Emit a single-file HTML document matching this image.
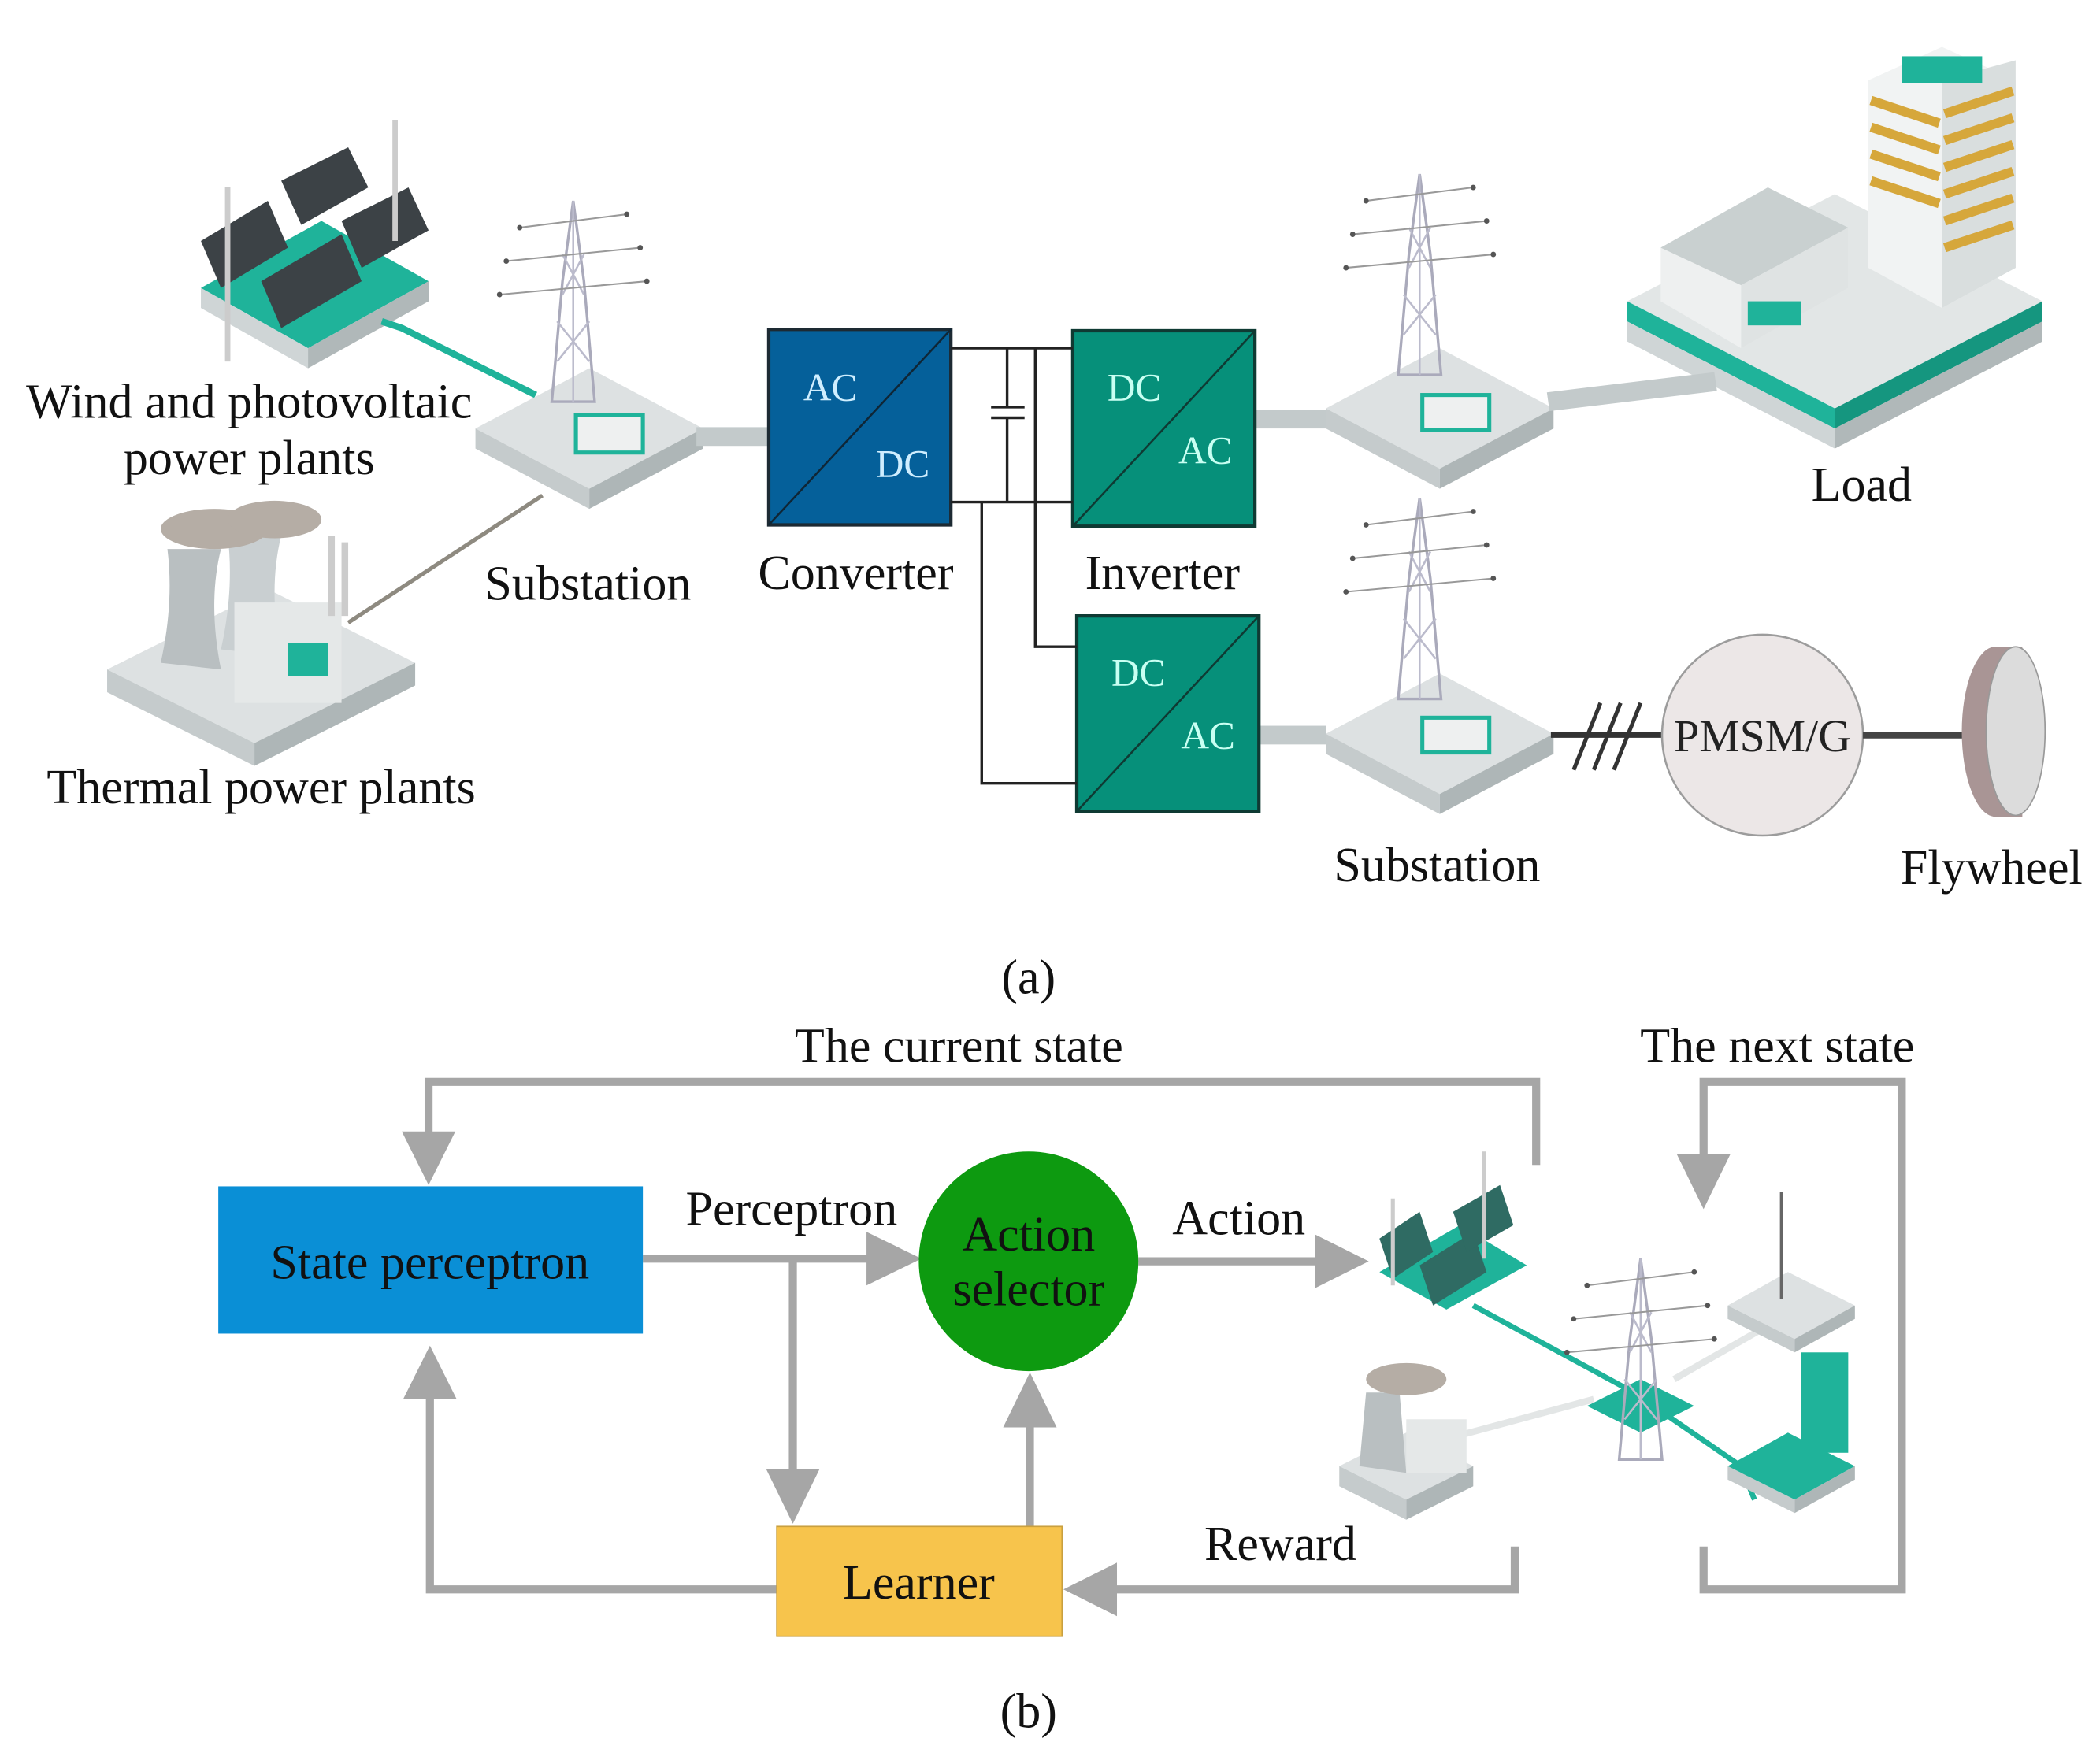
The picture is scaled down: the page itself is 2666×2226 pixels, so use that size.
<!DOCTYPE html>
<html><head><meta charset="utf-8"><style>
html,body{margin:0;padding:0;background:#fff;}
svg{display:block;}
text{font-family:"Liberation Serif",serif;}
</style></head><body>
<svg width="2666" height="2226" viewBox="0 0 1568 1309.2" xmlns="http://www.w3.org/2000/svg">
<defs>
<g id="tower">
 <polygon points="30,0 22,60 14,150 46,150 38,60" fill="none" stroke="#aab" stroke-width="2"/>
 <line x1="30" y1="0" x2="30" y2="150" stroke="#bbc" stroke-width="1.5"/>
 <path d="M22,40 L38,70 M38,40 L22,70 M18,90 L42,120 M42,90 L18,120" stroke="#bbc" stroke-width="1.5"/>
 <path d="M-10,20 L70,10 M-20,45 L80,35 M-25,70 L85,60" stroke="#999" stroke-width="1.2"/>
 <circle cx="-10" cy="20" r="2" fill="#555"/><circle cx="70" cy="10" r="2" fill="#555"/>
 <circle cx="-20" cy="45" r="2" fill="#555"/><circle cx="80" cy="35" r="2" fill="#555"/>
 <circle cx="-25" cy="70" r="2" fill="#555"/><circle cx="85" cy="60" r="2" fill="#555"/>
</g>
<g id="plat">
 <polygon points="0,0 85,-45 170,0 85,45" fill="#dde1e2"/>
 <polygon points="0,0 85,45 85,60 0,15" fill="#c5cbcc"/>
 <polygon points="170,0 85,45 85,60 170,15" fill="#aeb6b7"/>
</g>
</defs>

<g>
 <polygon points="150,215 240,165 320,210 230,260" fill="#1fb39a"/>
 <polygon points="150,215 230,260 230,275 150,230" fill="#cfd5d6"/>
 <polygon points="320,210 230,260 230,275 320,225" fill="#b0b8b9"/>
 <polygon points="150,180 200,150 215,185 165,215" fill="#3c4246"/>
 <polygon points="195,210 255,175 270,210 210,245" fill="#3c4246"/>
 <polygon points="210,135 260,110 275,140 225,168" fill="#3c4246"/>
 <polygon points="255,165 305,140 320,172 270,200" fill="#3c4246"/>
 <line x1="170" y1="140" x2="170" y2="270" stroke="#ccc" stroke-width="4"/>
 <line x1="295" y1="90" x2="295" y2="180" stroke="#ccc" stroke-width="4"/>
 <path d="M285,240 L300,245 L400,295" stroke="#1fb39a" stroke-width="5" fill="none"/>
</g>
<g>
 <polygon points="80,500 200,440 310,495 190,555" fill="#dde1e2"/>
 <polygon points="80,500 190,555 190,572 80,517" fill="#c5cbcc"/>
 <polygon points="310,495 190,555 190,572 310,512" fill="#aeb6b7"/>
 <path d="M125,410 Q130,450 120,495 L165,500 Q155,450 165,410 Z" fill="#b9bfc1"/>
 <path d="M170,400 Q175,440 165,485 L210,490 Q200,440 210,400 Z" fill="#c9cfd1"/>
 <ellipse cx="160" cy="395" rx="40" ry="15" fill="#b5ada5"/>
 <ellipse cx="205" cy="388" rx="35" ry="14" fill="#b5ada5"/>
 <rect x="175" y="450" width="80" height="75" fill="#e5e8e8"/>
 <rect x="215" y="480" width="30" height="25" fill="#1fb39a"/>
 <rect x="245" y="400" width="5" height="60" fill="#ccc"/><rect x="255" y="405" width="5" height="55" fill="#ccc"/>
 <line x1="260" y1="465" x2="405" y2="370" stroke="#8e8a80" stroke-width="3"/>
</g>
<use href="#plat" x="355" y="320"/>
<use href="#tower" x="398" y="150"/>
<rect x="430" y="310" width="50" height="28" fill="#eef0f0" stroke="#1fb39a" stroke-width="3"/>
<use href="#plat" x="990" y="305"/>
<use href="#tower" x="1030" y="130"/>
<rect x="1062" y="295" width="50" height="26" fill="#eef0f0" stroke="#1fb39a" stroke-width="3"/>
<use href="#plat" x="990" y="548"/>
<use href="#tower" x="1030" y="372"/>
<rect x="1062" y="536" width="50" height="26" fill="#eef0f0" stroke="#1fb39a" stroke-width="3"/>
<g>
 <polygon points="1215,225 1370,145 1525,225 1370,305" fill="#e2e6e6"/>
 <polygon points="1215,225 1370,305 1370,320 1215,240" fill="#1fb39a"/>
 <polygon points="1525,225 1370,305 1370,320 1525,240" fill="#15967f"/>
 <polygon points="1215,240 1370,320 1370,335 1215,255" fill="#cfd5d6"/>
 <polygon points="1525,240 1370,320 1370,335 1525,255" fill="#b0b8b9"/>
 <polygon points="1395,60 1450,35 1505,60 1505,200 1450,230 1395,200" fill="#f1f3f3"/>
 <polygon points="1450,60 1505,45 1505,200 1450,230" fill="#d9dede"/>
 <g stroke="#d6a73b" stroke-width="7">
  <line x1="1452" y1="85" x2="1503" y2="68"/><line x1="1452" y1="105" x2="1503" y2="88"/>
  <line x1="1452" y1="125" x2="1503" y2="108"/><line x1="1452" y1="145" x2="1503" y2="128"/>
  <line x1="1452" y1="165" x2="1503" y2="148"/><line x1="1452" y1="185" x2="1503" y2="168"/>
  <line x1="1397" y1="75" x2="1448" y2="92"/><line x1="1397" y1="95" x2="1448" y2="112"/>
  <line x1="1397" y1="115" x2="1448" y2="132"/><line x1="1397" y1="135" x2="1448" y2="152"/>
 </g>
 <rect x="1420" y="42" width="60" height="20" fill="#1fb39a"/>
 <polygon points="1240,185 1320,140 1380,170 1380,215 1300,260 1240,225" fill="#eef0f0"/>
 <polygon points="1240,185 1320,140 1380,170 1300,213" fill="#c9d0d0"/>
 <polygon points="1300,213 1380,170 1380,215 1300,260" fill="#dfe3e3"/>
 <rect x="1305" y="225" width="40" height="18" fill="#1fb39a"/>
</g>

<g fill="#c3cacb">
 <rect x="520" y="319" width="53" height="14"/>
 <rect x="937" y="306" width="53" height="14"/>
 <rect x="940" y="542" width="50" height="14"/>
 <polygon points="1155,293 1280,278 1282,292 1157,307"/>
</g>

<rect x="574" y="246" width="136" height="146" fill="#05609a" stroke="#1d2a33" stroke-width="2.5"/>
<line x1="574" y1="392" x2="710" y2="246" stroke="#0f2636" stroke-width="1.5"/>
<text x="620" y="299" font-size="29" fill="#cfeeff" text-anchor="middle">AC</text>
<text x="674" y="356" font-size="29" fill="#cfeeff" text-anchor="middle">DC</text>
<rect x="801" y="247" width="136" height="146" fill="#06907a" stroke="#0f3a33" stroke-width="2.5"/>
<line x1="801" y1="393" x2="937" y2="247" stroke="#0f3a33" stroke-width="1.5"/>
<text x="847" y="299" font-size="29" fill="#c8fff2" text-anchor="middle">DC</text>
<text x="900" y="346" font-size="29" fill="#c8fff2" text-anchor="middle">AC</text>
<rect x="804" y="460" width="136" height="146" fill="#06907a" stroke="#0f3a33" stroke-width="2.5"/>
<line x1="804" y1="606" x2="940" y2="460" stroke="#0f3a33" stroke-width="1.5"/>
<text x="850" y="512" font-size="29" fill="#c8fff2" text-anchor="middle">DC</text>
<text x="902" y="559" font-size="29" fill="#c8fff2" text-anchor="middle">AC</text>
<g stroke="#222" stroke-width="2" fill="none">
 <path d="M710,260 H801 M710,375 H801"/>
 <path d="M752,260 V304 M752,312 V375 M740,304 H765 M740,312 H765"/>
 <path d="M773,260 V483 H804"/>
 <path d="M733,375 V585 H804"/>
</g>

<line x1="1158" y1="549" x2="1242" y2="549" stroke="#333" stroke-width="4"/>
<g stroke="#333" stroke-width="3"><line x1="1175" y1="575" x2="1195" y2="525"/><line x1="1190" y1="575" x2="1210" y2="525"/><line x1="1205" y1="575" x2="1225" y2="525"/></g>
<circle cx="1316" cy="549" r="75" fill="#ece7e7" stroke="#9c9c9c" stroke-width="1.5"/>
<text x="1316" y="561" font-size="34" fill="#222" text-anchor="middle">PMSM/G</text>
<line x1="1391" y1="549" x2="1470" y2="549" stroke="#444" stroke-width="5"/>
<path d="M1490,483 L1510,483 L1510,610 L1490,610 A25,63 0 0 1 1490,483 Z" fill="#a99595"/>
<ellipse cx="1505" cy="546" rx="22" ry="63" fill="#dcdcdc" stroke="#999" stroke-width="1"/>

<g font-size="36.5" fill="#111" text-anchor="middle">
 <text x="186" y="312">Wind and photovoltaic</text>
 <text x="186" y="354">power plants</text>
 <text x="195" y="600">Thermal power plants</text>
 <text x="439" y="448">Substation</text>
 <text x="639" y="440">Converter</text>
 <text x="868" y="440">Inverter</text>
 <text x="1390" y="374">Load</text>
 <text x="1073" y="658">Substation</text>
 <text x="1487" y="660">Flywheel</text>
 <text x="768" y="742">(a)</text>
</g>

<g>
 <polygon points="1030,950 1090,915 1140,945 1080,978" fill="#1fb39a"/>
 <polygon points="1030,925 1060,905 1070,935 1040,955" fill="#2f6b63"/>
 <polygon points="1060,945 1100,920 1110,950 1070,975" fill="#2f6b63"/>
 <polygon points="1085,905 1120,885 1130,915 1095,935" fill="#2f6b63"/>
 <line x1="1108" y1="860" x2="1108" y2="940" stroke="#ccc" stroke-width="3"/>
 <line x1="1040" y1="895" x2="1040" y2="960" stroke="#ccc" stroke-width="3"/>
 <polyline points="1100,975 1220,1040 1300,1095 1310,1120" stroke="#1fb39a" stroke-width="4" fill="none"/>
 <line x1="1060" y1="1080" x2="1190" y2="1045" stroke="#e3e6e6" stroke-width="5"/>
 <line x1="1250" y1="1030" x2="1320" y2="990" stroke="#e3e6e6" stroke-width="5"/>
 <polygon points="1185,1050 1225,1030 1265,1050 1225,1070" fill="#1fb39a"/>
 <use href="#tower" x="1195" y="940"/>
 <polygon points="1290,975 1335,950 1385,975 1340,1000" fill="#dde1e2"/>
 <polygon points="1290,975 1340,1000 1340,1010 1290,985" fill="#c5cbcc"/>
 <polygon points="1385,975 1340,1000 1340,1010 1385,985" fill="#aeb6b7"/>
 <line x1="1330" y1="890" x2="1330" y2="970" stroke="#666" stroke-width="2"/>
 <polygon points="1290,1095 1335,1070 1385,1095 1340,1120" fill="#1fb39a"/>
 <polygon points="1290,1095 1340,1120 1340,1130 1290,1105" fill="#c5cbcc"/>
 <polygon points="1385,1095 1340,1120 1340,1130 1385,1105" fill="#aeb6b7"/>
 <rect x="1345" y="1010" width="35" height="75" fill="#1fb39a"/>
 <polygon points="1000,1095 1050,1070 1100,1095 1050,1120" fill="#dde1e2"/>
 <polygon points="1000,1095 1050,1120 1050,1135 1000,1110" fill="#c5cbcc"/>
 <polygon points="1100,1095 1050,1120 1050,1135 1100,1110" fill="#aeb6b7"/>
 <path d="M1020,1040 L1015,1095 L1050,1100 L1045,1040 Z" fill="#b9bfc1"/>
 <ellipse cx="1050" cy="1030" rx="30" ry="12" fill="#b5ada5"/>
 <rect x="1050" y="1060" width="45" height="40" fill="#e5e8e8"/>
</g>

<g stroke="#a6a6a6" stroke-width="6" fill="none">
 <polyline points="1147,870 1147,808 320,808 320,850"/>
 <line x1="480" y1="940" x2="650" y2="940"/>
 <line x1="592" y1="940" x2="592" y2="1100"/>
 <line x1="769" y1="1140" x2="769" y2="1062"/>
 <line x1="850" y1="942" x2="985" y2="942"/>
 <polyline points="1131,1155 1131,1187 830,1187"/>
 <polyline points="580,1187 321,1187 321,1042"/>
 <polyline points="1272,1155 1272,1187 1420,1187 1420,808 1272,808 1272,865"/>
</g>
<g fill="#a6a6a6">
 <polygon points="300,845 340,845 320,885"/>
 <polygon points="647,920 647,960 688,940"/>
 <polygon points="572,1097 612,1097 592,1138"/>
 <polygon points="749,1066 789,1066 769,1025"/>
 <polygon points="982,922 982,962 1022,942"/>
 <polygon points="834,1167 834,1207 794,1187"/>
 <polygon points="301,1045 341,1045 321,1005"/>
 <polygon points="1252,862 1292,862 1272,903"/>
</g>

<rect x="163" y="886" width="317" height="110" fill="#0a8fd6"/>
<circle cx="768" cy="942" r="82" fill="#0d9a10"/>
<rect x="580" y="1140" width="213" height="82" fill="#f7c44c" stroke="#c9a040" stroke-width="1"/>

<g font-size="36.5" fill="#111" text-anchor="middle">
 <text x="321" y="955">State perceptron</text>
 <text x="768" y="934">Action</text>
 <text x="768" y="975">selector</text>
 <text x="686" y="1194">Learner</text>
 <text x="716" y="793">The current state</text>
 <text x="1327" y="793">The next state</text>
 <text x="591" y="915">Perceptron</text>
 <text x="925" y="922">Action</text>
 <text x="956" y="1165">Reward</text>
 <text x="768" y="1290">(b)</text>
</g>
</svg>
</body></html>
